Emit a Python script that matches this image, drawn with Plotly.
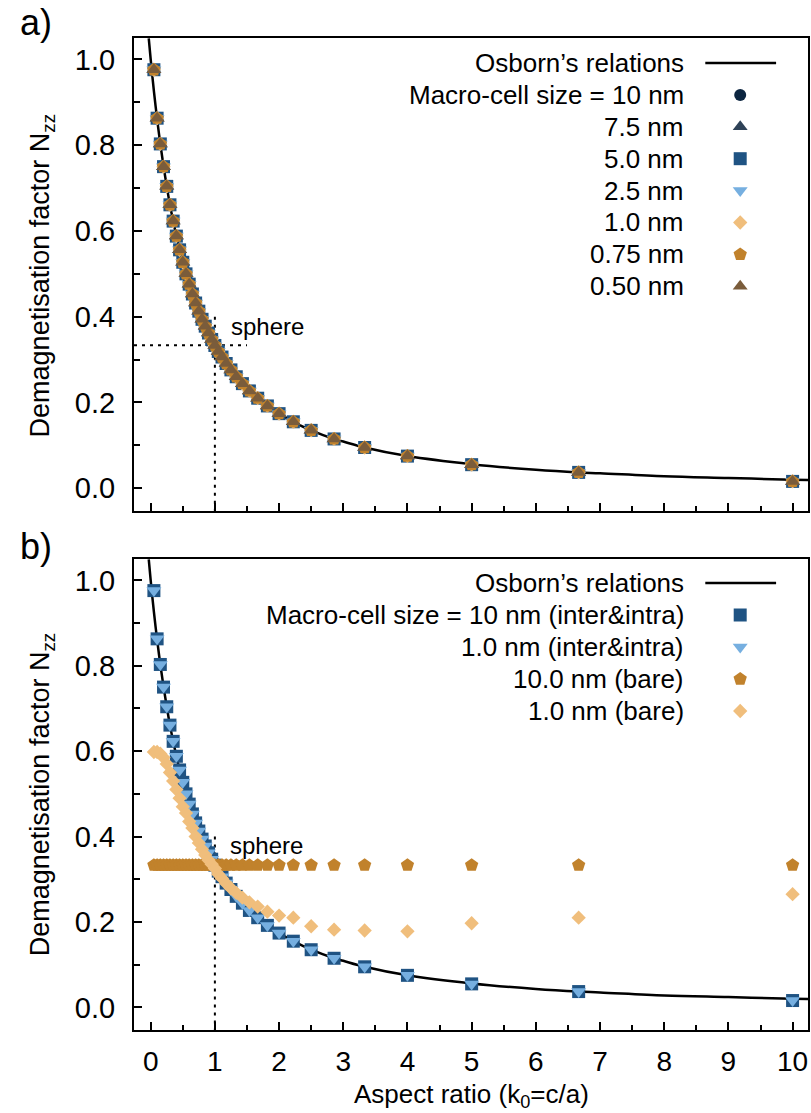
import plotly.graph_objects as go

FONT = "Liberation Sans, Arial, Helvetica, sans-serif"

# ---------------- data ----------------
# aspect ratios k0 = c/a of the simulated particles
k_values = [0.05, 0.10, 0.15, 0.20, 0.25, 0.30, 0.35, 0.40, 0.45, 0.50,
            0.55, 0.60, 0.65, 0.70, 0.75, 0.80, 0.85, 0.90, 0.95, 1.00,
            1.053, 1.111, 1.176, 1.25, 1.333, 1.429, 1.538, 1.667, 1.818, 2.0,
            2.222, 2.5, 2.857, 3.333, 4.0, 5.0, 6.667, 10.0]

# Osborn's relations (analytic curve)
osborn_k = [-0.03, 0.0, 0.025, 0.05, 0.075, 0.10, 0.15, 0.20, 0.25, 0.30, 0.35,
            0.40, 0.45, 0.50, 0.55, 0.60, 0.65, 0.70, 0.75, 0.80, 0.85, 0.90,
            0.95, 1.00, 1.053, 1.111, 1.176, 1.25, 1.333, 1.429, 1.538, 1.667,
            1.818, 2.0, 2.222, 2.5, 2.857, 3.0, 3.333, 4.0, 5.0, 6.0, 6.667,
            7.0, 8.0, 9.0, 10.0, 10.25]
osborn_n = [1.049, 1.000, 0.962, 0.926, 0.893, 0.861, 0.803, 0.751, 0.704, 0.661,
            0.623, 0.588, 0.556, 0.527, 0.500, 0.476, 0.453, 0.432, 0.413, 0.394,
            0.378, 0.362, 0.347, 0.3333, 0.319, 0.306, 0.291, 0.276, 0.260, 0.244,
            0.227, 0.210, 0.192, 0.174, 0.155, 0.135, 0.115, 0.109, 0.095, 0.075,
            0.056, 0.043, 0.037, 0.035, 0.028, 0.024, 0.020, 0.0195]

# panel a) : all macro-cell sizes overlap on the picture
nzz_a_10nm = [0.976, 0.863, 0.803, 0.750, 0.704, 0.661, 0.623, 0.588, 0.556, 0.527,
              0.500, 0.476, 0.453, 0.432, 0.413, 0.394, 0.378, 0.362, 0.347, 0.333,
              0.319, 0.306, 0.291, 0.276, 0.260, 0.244, 0.227, 0.210, 0.192, 0.174,
              0.155, 0.135, 0.115, 0.095, 0.075, 0.055, 0.037, 0.016]
nzz_a_7p5nm = list(nzz_a_10nm)
nzz_a_5nm = list(nzz_a_10nm)
nzz_a_2p5nm = list(nzz_a_10nm)
nzz_a_1nm = list(nzz_a_10nm)
nzz_a_0p75nm = list(nzz_a_10nm)
nzz_a_0p5nm = list(nzz_a_10nm)

# panel b)
nzz_b_10nm_inter = [0.976, 0.863, 0.803, 0.750, 0.704, 0.661, 0.623, 0.588, 0.556, 0.527,
                    0.500, 0.476, 0.453, 0.432, 0.413, 0.394, 0.378, 0.362, 0.347, 0.333,
                    0.319, 0.306, 0.291, 0.276, 0.260, 0.244, 0.227, 0.210, 0.192, 0.174,
                    0.155, 0.135, 0.115, 0.095, 0.075, 0.055, 0.037, 0.016]
nzz_b_1nm_inter = list(nzz_b_10nm_inter)
nzz_b_10nm_bare = [0.333] * len(k_values)
nzz_b_1nm_bare = [0.598, 0.598, 0.594, 0.585, 0.570, 0.550, 0.530, 0.510, 0.490, 0.470,
                  0.455, 0.435, 0.420, 0.400, 0.385, 0.370, 0.357, 0.345, 0.335, 0.325,
                  0.312, 0.302, 0.290, 0.279, 0.268, 0.257, 0.246, 0.236, 0.224, 0.215,
                  0.210, 0.190, 0.182, 0.180, 0.178, 0.197, 0.210, 0.265]

sphere_k, sphere_n = 1.0, 0.3333

legend_a = ["Osborn’s relations", "Macro-cell size = 10 nm", "7.5 nm", "5.0 nm",
            "2.5 nm", "1.0 nm", "0.75 nm", "0.50 nm"]
legend_b = ["Osborn’s relations", "Macro-cell size = 10 nm (inter&intra)",
            "1.0 nm (inter&intra)", "10.0 nm (bare)", "1.0 nm (bare)"]

C_NAVY = "#0c2540"
C_SLATE = "#2e4257"
C_BLUE = "#1f5383"
C_LBLUE = "#76afe0"
C_LORANGE = "#f0be7c"
C_ORANGE = "#c1822c"
C_BROWN = "#7a5c3b"

series_a = [
    (nzz_a_10nm, "circle", C_NAVY, 12),
    (nzz_a_7p5nm, "triangle-up", C_SLATE, 13),
    (nzz_a_5nm, "square", C_BLUE, 13),
    (nzz_a_2p5nm, "triangle-down", C_LBLUE, 13),
    (nzz_a_1nm, "diamond", C_LORANGE, 11),
    (nzz_a_0p75nm, "pentagon", C_ORANGE, 14),
    (nzz_a_0p5nm, "triangle-up", C_BROWN, 13),
]
series_b = [
    (nzz_b_10nm_inter, "square", C_BLUE, 13),
    (nzz_b_1nm_inter, "triangle-down", C_LBLUE, 13),
    (nzz_b_10nm_bare, "pentagon", C_ORANGE, 14),
    (nzz_b_1nm_bare, "diamond", C_LORANGE, 11),
]

fig = go.Figure()

# ---------------- panel a ----------------
fig.add_trace(go.Scatter(x=osborn_k, y=osborn_n, mode="lines", line=dict(color="black", width=2.5, shape="spline"),
                         xaxis="x", yaxis="y", showlegend=False, hoverinfo="skip"))
for vals, sym, col, sz in series_a:
    fig.add_trace(go.Scatter(x=k_values, y=vals, mode="markers", xaxis="x", yaxis="y",
                             marker=dict(symbol=sym, color=col, size=sz, line=dict(width=0)),
                             showlegend=False))

# ---------------- panel b ----------------
fig.add_trace(go.Scatter(x=osborn_k, y=osborn_n, mode="lines", line=dict(color="black", width=2.5, shape="spline"),
                         xaxis="x2", yaxis="y2", showlegend=False, hoverinfo="skip"))
for vals, sym, col, sz in series_b:
    fig.add_trace(go.Scatter(x=k_values, y=vals, mode="markers", xaxis="x2", yaxis="y2",
                             marker=dict(symbol=sym, color=col, size=sz, line=dict(width=0)),
                             showlegend=False))

# ---------------- custom (gnuplot-style) legends on overlay pixel axes ----------------
LEG_TEXT_X, LEG_LINE_X0, LEG_LINE_X1, LEG_MARK_X = 688, 707, 778, 742
rows_a = [63 + 31.9 * i for i in range(len(legend_a))]
rows_b = [583 + 32 * i for i in range(len(legend_b))]

annotations = []
for (xa, ya, rows, labels, styles) in [("x3", "y3", rows_a, legend_a, series_a),
                                       ("x4", "y4", rows_b, legend_b, series_b)]:
    fig.add_trace(go.Scatter(x=[LEG_LINE_X0, LEG_LINE_X1], y=[rows[0], rows[0]], mode="lines",
                             line=dict(color="black", width=2.5), xaxis=xa, yaxis=ya,
                             showlegend=False, hoverinfo="skip"))
    for r, (_, sym, col, sz) in zip(rows[1:], styles):
        fig.add_trace(go.Scatter(x=[LEG_MARK_X], y=[r], mode="markers", xaxis=xa, yaxis=ya,
                                 marker=dict(symbol=sym, color=col, size=sz, line=dict(width=0)),
                                 showlegend=False, hoverinfo="skip"))
    for r, lab in zip(rows, labels):
        annotations.append(dict(x=LEG_TEXT_X, y=r, xref=xa, yref=ya, text=lab, showarrow=False,
                                xanchor="right", yanchor="middle",
                                font=dict(family=FONT, size=26, color="black")))

# sphere labels
annotations.append(dict(x=1.22, y=0.377, xref="x", yref="y", text="sphere", showarrow=False,
                        xanchor="left", yanchor="middle", font=dict(family=FONT, size=24, color="black")))
annotations.append(dict(x=1.20, y=0.380, xref="x2", yref="y2", text="sphere", showarrow=False,
                        xanchor="left", yanchor="middle", font=dict(family=FONT, size=24, color="black")))

# axis titles & panel letters
ytitle = "Demagnetisation factor N<sub>zz</sub>"
annotations.append(dict(x=-0.136, y=0.761, xref="paper", yref="paper", text=ytitle, textangle=-90,
                        showarrow=False, xanchor="center", yanchor="middle",
                        font=dict(family=FONT, size=27, color="black")))
annotations.append(dict(x=-0.136, y=0.238, xref="paper", yref="paper", text=ytitle, textangle=-90,
                        showarrow=False, xanchor="center", yanchor="middle",
                        font=dict(family=FONT, size=27, color="black")))
annotations.append(dict(x=0.5, y=-0.066, xref="paper", yref="paper", text="Aspect ratio (k<sub>0</sub>=c/a)",
                        showarrow=False, xanchor="center", yanchor="middle",
                        font=dict(family=FONT, size=26, color="black")))
annotations.append(dict(x=-0.145, y=1.016, xref="paper", yref="paper", text="a)", showarrow=False,
                        xanchor="center", yanchor="middle", font=dict(family=FONT, size=36, color="black")))
annotations.append(dict(x=-0.146, y=0.487, xref="paper", yref="paper", text="b)", showarrow=False,
                        xanchor="center", yanchor="middle", font=dict(family=FONT, size=36, color="black")))

# dotted guide lines
shapes = []
for xr, yr in [("x", "y"), ("x2", "y2")]:
    shapes.append(dict(type="line", xref=xr, yref=yr, x0=sphere_k, x1=sphere_k, y0=0.40, y1=-0.053,
                       line=dict(color="black", width=2, dash="3px,5px"), layer="below"))
shapes.append(dict(type="line", xref="x", yref="y", x0=-0.26, x1=1.5, y0=sphere_n, y1=sphere_n,
                   line=dict(color="black", width=2, dash="3px,5px"), layer="below"))

XR = [-0.26, 10.24]
YR = [-0.053, 1.05]
common_axis = dict(showline=True, linewidth=2, linecolor="black", mirror=True, ticks="inside",
                   tickwidth=1.5, tickcolor="black", showgrid=False, zeroline=False,
                   tickfont=dict(family=FONT, size=29, color="black"))

xaxis_a = dict(common_axis, domain=[0, 1], anchor="y", range=XR, dtick=1, tick0=0, ticklen=8,
               showticklabels=False,
               minor=dict(ticks="inside", ticklen=5, dtick=0.5, tick0=0, tickwidth=1.5, tickcolor="black", showgrid=False))
xaxis_b = dict(common_axis, domain=[0, 1], anchor="y2", range=XR, dtick=1, tick0=0, ticklen=8,
               showticklabels=True, ticklabelstandoff=5,
               tickfont=dict(family=FONT, size=28, color="black"),
               minor=dict(ticks="inside", ticklen=5, dtick=0.5, tick0=0, tickwidth=1.5, tickcolor="black", showgrid=False))
yaxis_a = dict(common_axis, domain=[0.5232, 1], anchor="x", range=YR, dtick=0.2, tick0=0, ticklen=8,
               tickformat=".1f", ticklabelstandoff=11,
               minor=dict(ticks="inside", ticklen=6, dtick=0.1, tick0=0, tickwidth=1.5, tickcolor="black", showgrid=False))
yaxis_b = dict(common_axis, domain=[0, 0.4748], anchor="x2", range=YR, dtick=0.2, tick0=0, ticklen=8,
               tickformat=".1f", ticklabelstandoff=11,
               minor=dict(ticks="inside", ticklen=6, dtick=0.1, tick0=0, tickwidth=1.5, tickcolor="black", showgrid=False))

hidden = dict(visible=False, showgrid=False, zeroline=False, fixedrange=True)

fig.update_layout(
    width=811, height=1113,
    margin=dict(l=134, r=1, t=38, b=83),
    plot_bgcolor="white", paper_bgcolor="white",
    showlegend=False,
    font=dict(family=FONT, color="black"),
    xaxis=xaxis_a, yaxis=yaxis_a, xaxis2=xaxis_b, yaxis2=yaxis_b,
    xaxis3=dict(hidden, overlaying="x", anchor="y3", range=[134, 810]),
    yaxis3=dict(hidden, overlaying="y", anchor="x3", range=[511, 38]),
    xaxis4=dict(hidden, overlaying="x2", anchor="y4", range=[134, 810]),
    yaxis4=dict(hidden, overlaying="y2", anchor="x4", range=[1030, 559]),
    annotations=annotations,
    shapes=shapes,
)

fig.write_html("out.html")
